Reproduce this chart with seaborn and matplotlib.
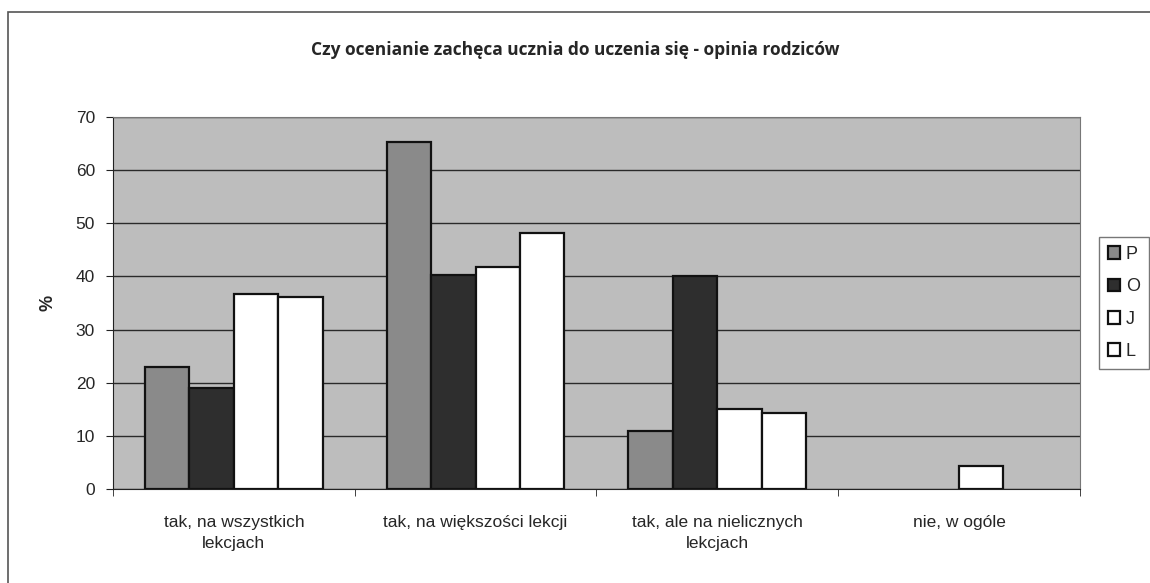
#Czy ocenianie zacheca ucznia do uczenia sie - opinia rodzicow
#grouped bars, Excel-like grey style

import numpy as np
import matplotlib.pyplot as plt
import seaborn as sns
import pandas as pd
from matplotlib.patches import Rectangle, Patch

#data
categories = ['tak, na wszystkich\nlekcjach', 'tak, na większości lekcji',
              'tak, ale na nielicznych\nlekcjach', 'nie, w ogóle']
groups = ['P', 'O', 'J', 'L']
p_vals = [23.0, 65.3, 10.9, 0]
o_vals = [19.0, 40.3, 40.0, 0]
j_vals = [36.7, 41.7, 15.0, 4.3]
l_vals = [36.1, 48.1, 14.4, 0]

#make data nice
vals = np.concatenate((p_vals, o_vals, j_vals, l_vals))
names = np.repeat(groups, len(categories))
cats = np.tile(categories, len(groups))
df = pd.DataFrame({'Kategoria': cats, 'Grupa': names, 'Procent': vals})

sns.set_style("white")
plt.rcParams['font.family'] = ['Liberation Sans', 'DejaVu Sans']

fig = plt.figure(figsize=(11.5, 5.83), dpi=100)
ax = fig.add_axes([0.0983, 0.1612, 0.8407, 0.638])

pal = {'P': '#8a8a8a', 'O': '#2e2e2e', 'J': '#ffffff', 'L': '#ffffff'}
sns.barplot(data=df, x='Kategoria', y='Procent', hue='Grupa', hue_order=groups,
            order=categories, palette=pal, width=0.735, gap=0,
            edgecolor='#111111', linewidth=1.6, saturation=1, ax=ax, legend=False)

#empty bars show nothing
for b in ax.patches:
    if b.get_height() == 0:
        b.set_linewidth(0)

ax.set_facecolor('#bdbdbd')
ax.set_ylim(0, 70)
ax.set_xlim(-0.5, 3.5)
ax.set_yticks(range(0, 71, 10))
ax.yaxis.grid(True, color='#2a2a2a', linewidth=1)
ax.set_axisbelow(True)
for s in ['top', 'right']:
    ax.spines[s].set_color('#777777')
for s in ['left', 'bottom']:
    ax.spines[s].set_color('#222222')
ax.tick_params(axis='y', left=True, length=5, labelsize=12.5, pad=8, color='#222222')
ax.tick_params(axis='x', which='major', length=0, labelsize=12.5, pad=19)
for t in ax.get_xticklabels():
    t.set_linespacing(1.5)
ax.set_xticks(np.arange(-0.5, 3.6, 1), minor=True)
ax.tick_params(axis='x', which='minor', bottom=True, length=5, color='#222222')
ax.set_xlabel('')
ax.set_ylabel('%', fontsize=13, fontweight='bold', labelpad=14)

handles = [Patch(facecolor=pal[g], edgecolor='#111111', linewidth=1.6, label=g) for g in groups]
ax.legend(handles=handles, loc='center left', bbox_to_anchor=(1.01, 0.5), frameon=True,
          fontsize=13, handlelength=0.7, handleheight=0.7, handletextpad=0.3,
          labelspacing=0.85, borderpad=0.5, edgecolor='#555555', fancybox=False)

fig.text(0.5, 0.915, 'Czy ocenianie zachęca ucznia do uczenia się - opinia rodziców',
         ha='center', va='center', fontsize=12.5, fontweight='bold', family=['Open Sans', 'DejaVu Sans'])

#outer chart border
fig.patches.append(Rectangle((0.007, -0.01), 1.0, 0.99, transform=fig.transFigure,
                             fill=False, edgecolor='#555555', linewidth=1.2))

plt.savefig('out.png', dpi=100)
